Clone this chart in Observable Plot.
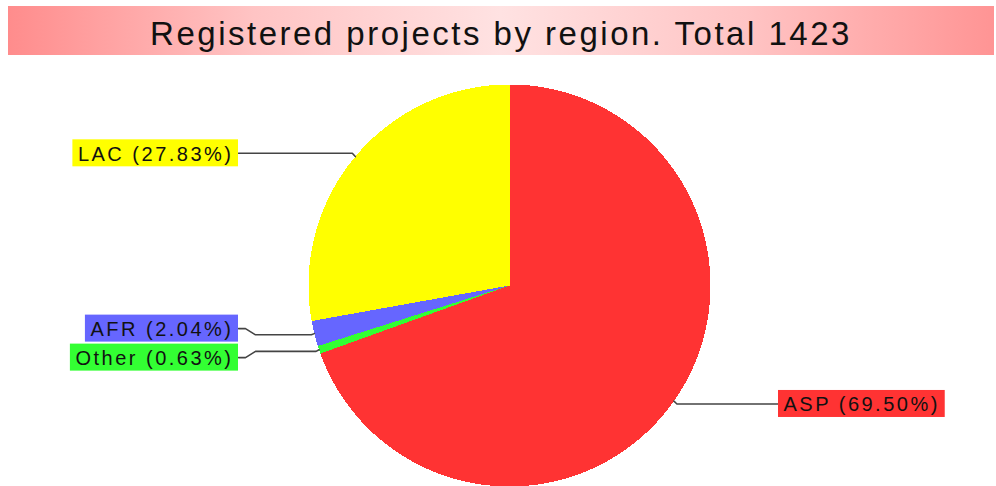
<!DOCTYPE html>
<html>
<head>
<meta charset="utf-8">
<script src="https://cdn.jsdelivr.net/npm/d3@7"></script>
<script src="https://cdn.jsdelivr.net/npm/@observablehq/plot@0.6"></script>
<style>
  html, body { margin: 0; padding: 0; background: #fff; }
  #wrap { width: 996px; height: 486px; position: relative; overflow: hidden; }
  #title {
    position: absolute; left: 8px; top: 6px; width: 986px; height: 49px;
    background: linear-gradient(to right, #ff8c8c 0%, #ffc4c4 25%, #ffe2e2 50%, #ffc4c4 75%, #ff9494 100%);
    font-family: "Liberation Sans", Arial, sans-serif; font-size: 33px; color: #111;
    letter-spacing: 2.5px; box-sizing: border-box; padding-top: 3px;
    line-height: 49px; text-align: center; white-space: nowrap;
  }
  #chart { position: absolute; left: 0; top: 60px; }
</style>
</head>
<body>
<div id="wrap">
  <div id="title"></div>
  <div id="chart"></div>
</div>
<script>
// ---- data ----
const regions = ["ASP", "Other", "AFR", "LAC"];
const counts = [989, 9, 29, 396];
const colors = ["#ff3333", "#33ff33", "#6666ff", "#ffff00"];
const titleText = "Registered projects by region. Total";

// ---- layout ----
const W = 996, H = 426;
const cx = 509, cy = 225, R = 201;
const labelFont = "20px 'Liberation Sans'";
const letterSpacing = 2.5;
const total = d3.sum(counts);
document.getElementById("title").textContent = titleText + " " + total;

const data = regions.map((name, i) => ({name, count: counts[i]}));
const arcs = d3.pie().sort(null).value(d => d.count).startAngle(0).endAngle(2 * Math.PI)(data);

// slice polygons
const poly = [];
for (const a of arcs) {
  const n = Math.max(2, Math.ceil((a.endAngle - a.startAngle) / 0.004));
  poly.push({name: a.data.name, x: cx, y: cy});
  for (let k = 0; k <= n; k++) {
    const t = a.startAngle + (a.endAngle - a.startAngle) * k / n;
    poly.push({name: a.data.name, x: cx + R * Math.sin(t), y: cy - R * Math.cos(t)});
  }
  poly.push({name: a.data.name, x: cx, y: cy});
}

// labels
const canvas = document.createElement("canvas");
const ctx = canvas.getContext("2d");
ctx.font = labelFont;
const labels = arcs.map(a => {
  const m = (a.startAngle + a.endAngle) / 2;
  const side = Math.sin(m) >= 0 ? 1 : -1;
  const pct = (a.data.count / total * 100).toFixed(2);
  const text = `${a.data.name} (${pct}%)`;
  const tw = ctx.measureText(text).width + letterSpacing * text.length;
  return {name: a.data.name, m, side, text, tw,
          ax: cx + R * Math.sin(m), ay: cy - R * Math.cos(m),
          baseY: cy - 1.025 * R * Math.cos(m), y: cy - 1.025 * R * Math.cos(m)};
});
// simple overlap resolution per side
for (const side of [-1, 1]) {
  const group = labels.filter(l => l.side === side).sort((a, b) => a.y - b.y);
  const gap = 29;
  for (let iter = 0; iter < 50; iter++) {
    let moved = false;
    for (let i = 1; i < group.length; i++) {
      const d = group[i].y - group[i - 1].y;
      if (d < gap) {
        const s = (gap - d) / 2;
        group[i - 1].y -= s; group[i].y += s; moved = true;
      }
    }
    if (!moved) break;
  }
}
const pad = 5, boxH = 27;
const boxes = [], texts = [], leaders = [];
for (const l of labels) {
  const edge = l.side > 0 ? cx + R + 68 : cx - R - 70;
  const x1 = l.side > 0 ? edge : edge - l.tw - 2 * pad;
  const x2 = l.side > 0 ? edge + l.tw + 2 * pad : edge;
  boxes.push({name: l.name, x1, x2, y1: l.y - boxH / 2, y2: l.y + boxH / 2});
  texts.push({name: l.name, text: l.text, x: x1 + pad, y: l.y + 1});
  const pts = [
    [l.ax, l.ay],
    [l.ax + l.side * 3, l.baseY],
    [edge - l.side * 17, l.baseY],
    [edge - l.side * 7, l.y],
    [edge, l.y]
  ];
  for (const [x, y] of pts) leaders.push({name: l.name, x, y});
}

const chart = Plot.plot({
  width: W, height: H, margin: 0,
  style: {background: "white", overflow: "visible"},
  x: {domain: [0, W], range: [0, W], axis: null},
  y: {domain: [0, H], range: [0, H], axis: null},
  color: {domain: regions, range: colors},
  marks: [
    Plot.line(poly, {x: "x", y: "y", z: "name", fill: "name", stroke: "none", curve: "linear", shapeRendering: "crispEdges"}),
    Plot.line(leaders, {x: "x", y: "y", z: "name", stroke: "#444", strokeWidth: 1.6, curve: "linear"}),
    Plot.rect(boxes, {x1: "x1", x2: "x2", y1: "y1", y2: "y2", fill: "name"}),
    Plot.text(texts, {x: "x", y: "y", text: "text", textAnchor: "start", fill: "#111", fontSize: 20, fontFamily: "Liberation Sans"})
  ]
});
d3.select(chart).selectAll("text").attr("letter-spacing", letterSpacing);
document.getElementById("chart").appendChild(chart);
</script>
</body>
</html>
